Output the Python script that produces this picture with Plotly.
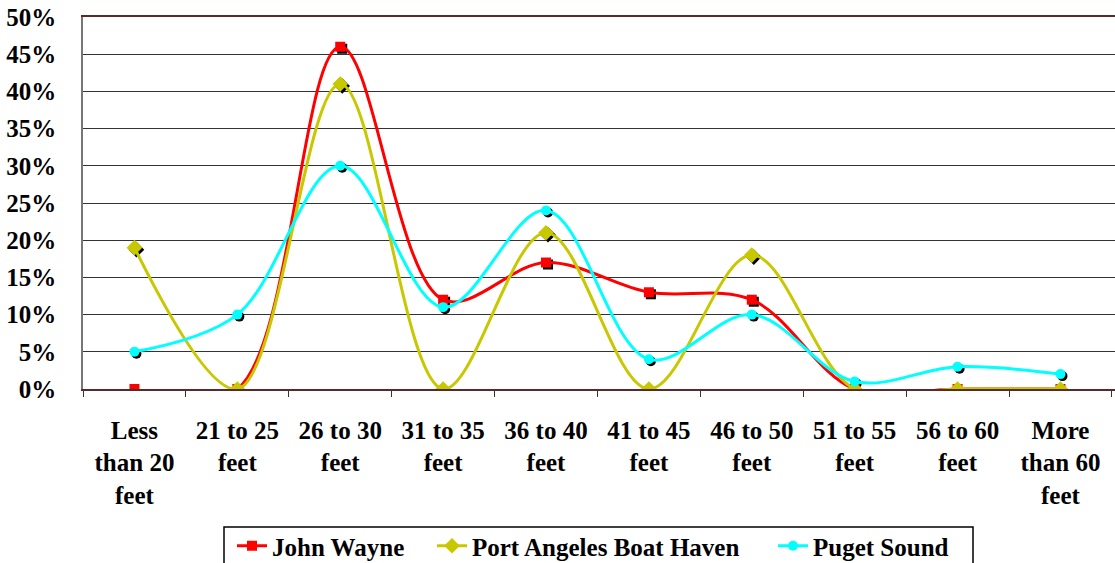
import plotly.graph_objects as go

categories = ["Less<br>than 20<br>feet", "21 to 25<br>feet", "26 to 30<br>feet", "31 to 35<br>feet",
              "36 to 40<br>feet", "41 to 45<br>feet", "46 to 50<br>feet", "51 to 55<br>feet",
              "56 to 60<br>feet", "More<br>than 60<br>feet"]
john_wayne = [0.00, 0.00, 0.46, 0.12, 0.17, 0.13, 0.12, 0.00, 0.00, 0.00]
port_angeles = [0.19, 0.00, 0.41, 0.00, 0.21, 0.00, 0.18, 0.00, 0.00, 0.00]
puget_sound = [0.05, 0.10, 0.30, 0.11, 0.24, 0.04, 0.10, 0.01, 0.03, 0.02]
y_ticks = [0, 0.05, 0.10, 0.15, 0.20, 0.25, 0.30, 0.35, 0.40, 0.45, 0.50]

series = [
    ("John Wayne", john_wayne, "#FF0000", "square", "legend", 232),
    ("Port Angeles Boat Haven", port_angeles, "#C8C800", "diamond", "legend2", 432),
    ("Puget Sound", puget_sound, "#00FFFF", "circle", "legend3", 773),
]

W, H = 1115, 563
L, T, B, R = 83, 17, 174, 0
pw = W - L - R
ph = H - T - B
xr = [-0.5, 9.53]
yr = [0, 0.5]
dx = 2 * (xr[1] - xr[0]) / pw
dy = 2 * (yr[1] - yr[0]) / ph

font = "Liberation Serif"
FS = 25
fig = go.Figure()

# shadow markers (on shifted hidden axes)
for name, vals, color, sym, lg, lx in series:
    fig.add_trace(go.Scatter(x=categories, y=vals, mode="markers", xaxis="x2", yaxis="y2",
                             marker=dict(symbol=sym, size=10 if sym != "diamond" else 12, color="black"),
                             showlegend=False, hoverinfo="skip", cliponaxis=False))
# main series
for name, vals, color, sym, lg, lx in series:
    fig.add_trace(go.Scatter(x=categories, y=vals, name=name, mode="lines+markers", xaxis="x3", yaxis="y3",
                             line=dict(color=color, width=3, shape="spline", smoothing=1.0),
                             marker=dict(symbol=sym, size=10 if sym != "diamond" else 12, color=color),
                             cliponaxis=True, legend=lg))

# invisible trace on base axes so the base subplot exists with categories
fig.add_trace(go.Scatter(x=categories, y=[None] * len(categories), showlegend=False, hoverinfo="skip"))

hidden = dict(visible=False, showgrid=False, zeroline=False)
legend_top = 523
legends = {}
for name, vals, color, sym, lg, lx in series:
    legends[lg] = dict(orientation="h", xref="container", yref="container", x=lx / W, xanchor="left",
                       y=(H - legend_top) / H, yanchor="top", borderwidth=0,
                       font=dict(family=font, size=FS, color="black", weight="bold"),
                       itemwidth=30, bgcolor="rgba(0,0,0,0)")

# legend frame (pixel positions converted to paper coords)
box_l, box_r, box_t, box_b = 224, 973, 527, 575
fig.add_shape(type="rect", xref="paper", yref="paper",
              x0=(box_l - L) / pw, x1=(box_r - L) / pw,
              y0=(H - B - box_b) / ph, y1=(H - B - box_t) / ph,
              line=dict(color="black", width=1.5), fillcolor="rgba(0,0,0,0)", layer="above")

fig.update_layout(
    width=W, height=H,
    margin=dict(l=L, r=R, t=T, b=B),
    paper_bgcolor="white", plot_bgcolor="white",
    font=dict(family=font, size=FS, color="black"),
    xaxis=dict(type="category", categoryorder="array", categoryarray=categories, range=xr,
               tickson="boundaries", ticks="outside", ticklen=6, tickcolor="#333",
               showline=True, linecolor="#5a2a2a", linewidth=1.5, mirror=True,
               showgrid=False, tickfont=dict(family=font, size=FS, color="black", weight="bold"),
               ticklabelstandoff=18),
    yaxis=dict(range=yr, tickvals=y_ticks, tickformat=".0%", showgrid=True, gridcolor="#333",
               gridwidth=1, zeroline=False, showline=True, linecolor="#777", linewidth=1.5,
               ticks="", ticklabelstandoff=20,
               tickfont=dict(family=font, size=FS, color="black", weight="bold")),
    xaxis2=dict(type="category", categoryorder="array", categoryarray=categories,
                range=[xr[0] - dx, xr[1] - dx], overlaying="x", **hidden),
    yaxis2=dict(range=[yr[0] + dy, yr[1] + dy], overlaying="y", **hidden),
    xaxis3=dict(type="category", categoryorder="array", categoryarray=categories,
                range=xr, overlaying="x", **hidden),
    yaxis3=dict(range=yr, overlaying="y", **hidden),
    legend=legends["legend"], legend2=legends["legend2"], legend3=legends["legend3"],
    showlegend=True,
)

fig.write_html("out.html")
